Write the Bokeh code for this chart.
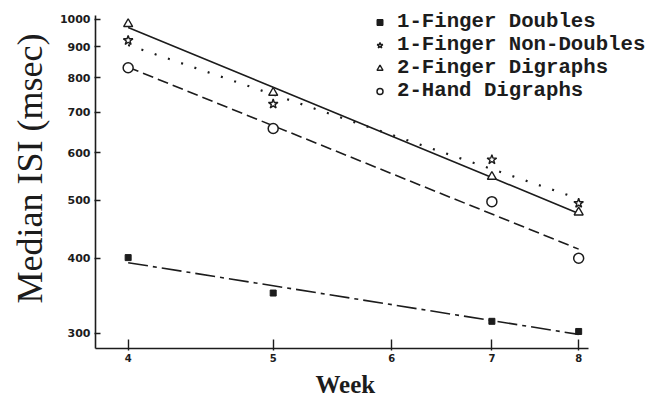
import numpy as np
from bokeh.plotting import figure
from bokeh.models import Range1d, FixedTicker, PrintfTickFormatter, Legend, LegendItem, Title
from bokeh.embed import file_html
from bokeh.resources import INLINE

# ---- data ----
weeks = [4, 5, 7, 8]
one_finger_doubles = [401, 350, 314, 302]
one_finger_non_doubles = [923, 723, 584, 494]
two_finger_digraphs = [983, 755, 547, 477]
two_hand_digraphs = [831, 658, 497, 400]
series_names = ["1-Finger Doubles", "1-Finger Non-Doubles", "2-Finger Digraphs", "2-Hand Digraphs"]
x_ticks = [4, 5, 6, 7, 8]
y_ticks = [300, 400, 500, 600, 700, 800, 900, 1000]


def loglog_fit(xs, ys):
    k, b = np.polyfit(np.log(xs), np.log(ys), 1)
    return [float(np.exp(b) * x ** k) for x in xs]


INK = "#1c1c1c"

p = figure(width=654, height=405, x_axis_type="log", y_axis_type="log",
           x_range=Range1d(3.804, 8.99), y_range=Range1d(282.9, 1075.6),
           output_backend="svg", toolbar_location=None,
           min_border_left=95, min_border_right=0, min_border_top=0, min_border_bottom=57)
p.background_fill_color = "white"
p.border_fill_color = "white"
p.outline_line_color = None
p.xgrid.visible = False
p.ygrid.visible = False

# axes
p.xaxis.ticker = FixedTicker(ticks=x_ticks, minor_ticks=[])
p.xaxis.formatter = PrintfTickFormatter(format="%d")
p.xaxis.bounds = (3.804, 8.121)
p.xaxis.major_tick_in = 9
p.xaxis.major_tick_out = 2
p.xaxis.major_label_standoff = 3
p.xaxis.major_label_text_font_size = "10px"

p.yaxis.ticker = FixedTicker(ticks=y_ticks, minor_ticks=[])
p.yaxis.formatter = PrintfTickFormatter(format="%d")
p.yaxis.bounds = (283, 1015.5)
p.yaxis.major_tick_in = 5
p.yaxis.major_tick_out = 1
p.yaxis.major_label_standoff = 4
p.yaxis.major_label_text_font_size = "11px"

for ax in (p.xaxis, p.yaxis):
    ax.minor_tick_in = 0
    ax.minor_tick_out = 0
    ax.axis_line_color = INK
    ax.axis_line_width = 1.6
    ax.major_tick_line_color = INK
    ax.major_tick_line_width = 1.4
    ax.major_label_text_font = "DejaVu Sans"
    ax.major_label_text_font_style = "bold"
    ax.major_label_text_color = INK

# axis titles
p.add_layout(Title(text="Median ISI (msec)", align="left", offset=45, vertical_align="top",
                   standoff=10, text_font="Liberation Serif", text_font_style="normal",
                   text_font_size="36px", text_color=INK), "left")
p.add_layout(Title(text="Week", align="left", offset=220, vertical_align="bottom",
                   standoff=9, text_font="Liberation Serif", text_font_style="bold",
                   text_font_size="25px", text_color=INK), "below")

# fitted power-law trend lines (straight in log-log)
p.line(weeks, loglog_fit(weeks, one_finger_doubles), line_color=INK, line_width=1.6, line_dash="20 5 4 5")
p.line(weeks, loglog_fit(weeks, one_finger_non_doubles), line_color=INK, line_width=2.2, line_dash="2 12")
p.line(weeks, loglog_fit(weeks, two_finger_digraphs), line_color=INK, line_width=1.6)
p.line(weeks, loglog_fit(weeks, two_hand_digraphs), line_color=INK, line_width=1.6, line_dash="11 5")

# data points
r1 = p.scatter(weeks, one_finger_doubles, marker="square", size=6, fill_color=INK, line_color=INK)
r2 = p.scatter(weeks, one_finger_non_doubles, marker="star", size=10, fill_color="white",
               line_color=INK, line_width=1.4)
r3 = p.scatter(weeks, two_finger_digraphs, marker="triangle", size=9, fill_color="white",
               line_color=INK, line_width=1.4)
r4 = p.scatter(weeks, two_hand_digraphs, marker="circle", size=10, fill_color="white",
               line_color=INK, line_width=1.5)

legend = Legend(items=[LegendItem(label=n, renderers=[r]) for n, r in zip(series_names, [r1, r2, r3, r4])],
                location=(277, 246), glyph_width=15, glyph_height=20, label_height=20,
                spacing=0, padding=0, margin=0, label_standoff=10,
                label_text_font="Liberation Mono", label_text_font_style="bold",
                label_text_font_size="20.7px", label_text_color=INK,
                border_line_color=None, background_fill_alpha=0)
p.add_layout(legend)

open("out.html", "w").write(file_html(p, INLINE))
